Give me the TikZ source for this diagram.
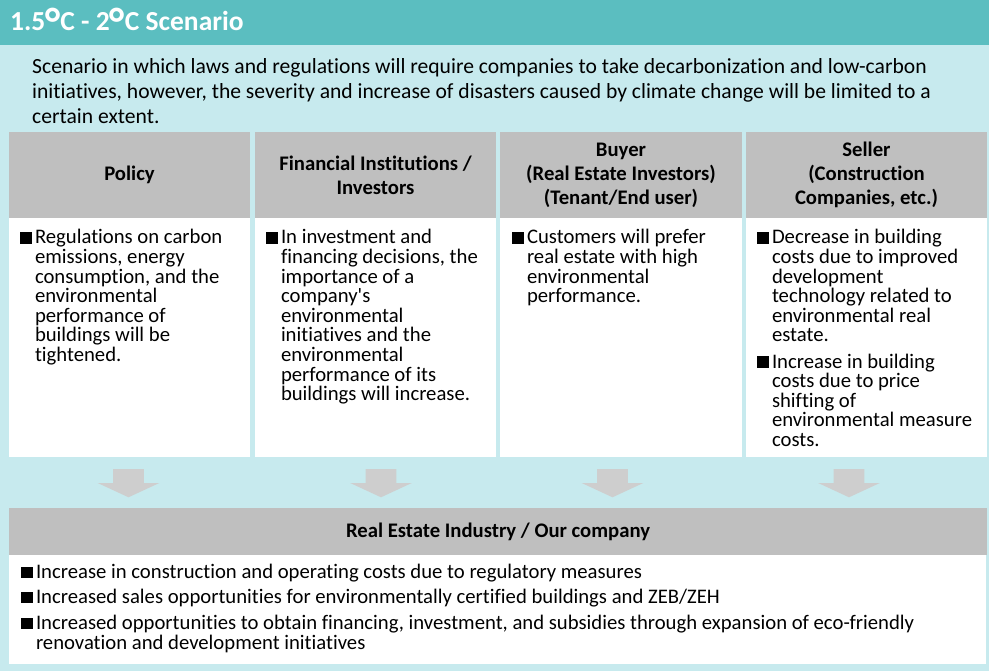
\documentclass[tikz,border=0pt]{standalone}
\usepackage{fontspec}
\setmainfont{Carlito}[Ligatures={TeX,NoCommon}]
\definecolor{teal1}{RGB}{91,190,192}
\definecolor{bgc}{RGB}{199,234,238}
\definecolor{hdrgray}{RGB}{191,191,191}
\definecolor{arrgray}{RGB}{206,206,206}
\newcommand{\degsym}{\raisebox{-0.55ex}{\scalebox{1.6}{°}}}
\begin{document}
\begin{tikzpicture}[x=1pt,y=-1pt,
  hdr/.style={fill=hdrgray, inner sep=0, outer sep=0, align=center,
    font=\bfseries\fontsize{20.7}{24}\selectfont},
  bodybox/.style={fill=white, inner sep=0, outer sep=0},
  txt/.style={anchor=base west, inner sep=0, outer sep=0, align=left,
    font=\fontsize{20.7}{19.6}\selectfont},
  btxt/.style={anchor=base west, inner sep=0, outer sep=0, align=left,
    font=\fontsize{20.7}{20}\selectfont},
  sq/.style={fill=black},
  blk/.style={fill=arrgray}]
\useasboundingbox (0,0) rectangle (989,671);
\fill[bgc] (0,0) rectangle (989,671);
\fill[teal1] (0,0) rectangle (989,45);
\node[anchor=base west, inner sep=0, text=white, font=\bfseries\fontsize{27.5}{30}\selectfont] (title) at (10,31) {1.5\degsym C - 2\degsym C Scenario};
% intro
\node[anchor=base west, inner sep=0, font=\fontsize{21.6}{24.8}\selectfont] (intro) at (32,74)
  {\parbox[t]{955pt}{\raggedright Scenario in which laws and regulations will require companies to take decarbonization and low-carbon\\
  initiatives, however, the severity and increase of disasters caused by climate change will be limited to a\\
  certain extent.}};
% headers
\node[hdr, minimum width=241pt, minimum height=86pt] (h1) at (129.5,175) {Policy};
\node[hdr, minimum width=241pt, minimum height=86pt] (h2) at (375.5,175) {Financial Institutions /\\Investors};
\node[hdr, minimum width=242pt, minimum height=86pt] (h3) at (621,175) {Buyer\\(Real Estate Investors)\\(Tenant/End user)};
\node[hdr, minimum width=241pt, minimum height=86pt] (h4) at (866.5,175) {Seller\\(Construction\\Companies, etc.)};
% bodies
\node[bodybox, minimum width=241pt, minimum height=239pt] (b1) at (129.5,337.5) {};
\node[bodybox, minimum width=241pt, minimum height=239pt] (b2) at (375.5,337.5) {};
\node[bodybox, minimum width=242pt, minimum height=239pt] (b3) at (621,337.5) {};
\node[bodybox, minimum width=241pt, minimum height=239pt] (b4) at (866.5,337.5) {};
% column texts
\fill[sq] (20,244) rectangle (31.5,232.5);
\node[txt] (t1) at (35,244) {\parbox[t]{215pt}{\raggedright Regulations on carbon\\emissions, energy\\consumption, and the\\environmental\\performance of\\buildings will be\\tightened.}};
\fill[sq] (266,244) rectangle (277.5,232.5);
\node[txt] (t2) at (281,244) {\parbox[t]{215pt}{\raggedright In investment and\\financing decisions, the\\importance of a\\company\textquotesingle s\\environmental\\initiatives and the\\environmental\\performance of its\\buildings will increase.}};
\fill[sq] (512,244) rectangle (523.5,232.5);
\node[txt] (t3) at (527,244) {\parbox[t]{215pt}{\raggedright Customers will prefer\\real estate with high\\environmental\\performance.}};
\fill[sq] (757,244) rectangle (768.5,232.5);
\node[txt] (t4a) at (772,244) {\parbox[t]{215pt}{\raggedright Decrease in building\\costs due to improved\\development\\technology related to\\environmental real\\estate.}};
\fill[sq] (757,368) rectangle (768.5,356.5);
\node[txt] (t4b) at (772,368) {\parbox[t]{215pt}{\raggedright Increase in building\\costs due to price\\shifting of\\environmental measure\\costs.}};
% arrows
\foreach \cx/\nm in {128.5/a1,381/a2,612.5/a3,849/a4}{
  \fill[blk] (\cx-15.3,469) -- (\cx+15.3,469) -- (\cx+15.3,483) -- (\cx+30.8,483)
    -- (\cx,497.3) -- (\cx-30.8,483) -- (\cx-15.3,483) -- cycle;
}
% bottom
\node[hdr, minimum width=978pt, minimum height=47pt] (bh) at (498,531.5) {Real Estate Industry / Our company};
\node[bodybox, minimum width=977pt, minimum height=109pt] (bb) at (497.5,609.5) {};
\fill[sq] (21,578) rectangle (32.5,566.5);
\node[btxt] (l1) at (36,578) {Increase in construction and operating costs due to regulatory measures};
\fill[sq] (21,603) rectangle (32.5,591.5);
\node[btxt] (l2) at (36,603) {Increased sales opportunities for environmentally certified buildings and ZEB/ZEH};
\fill[sq] (21,629) rectangle (32.5,617.5);
\node[btxt] (l3) at (36,629) {\parbox[t]{940pt}{\raggedright Increased opportunities to obtain financing, investment, and subsidies through expansion of eco-friendly\\renovation and development initiatives}};
\end{tikzpicture}
\end{document}
